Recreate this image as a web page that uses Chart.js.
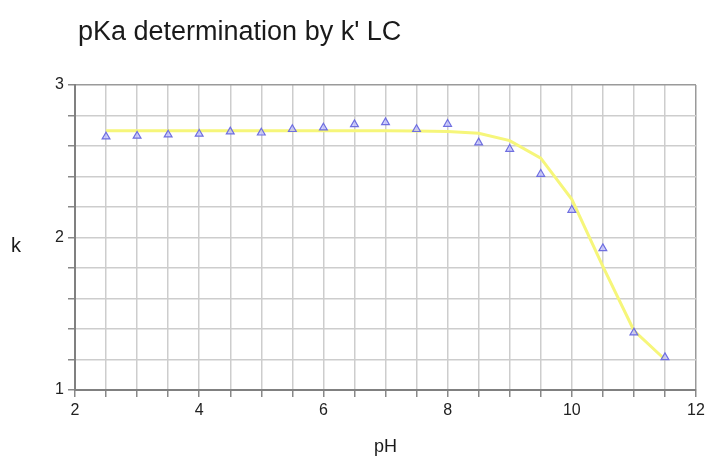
<!DOCTYPE html>
<html>
<head>
<meta charset="utf-8">
<script src="https://cdn.jsdelivr.net/npm/chart.js@4/dist/chart.umd.min.js"></script>
<style>
  html, body { margin: 0; padding: 0; background: #fff; }
  #wrap { width: 705px; height: 459px; position: relative; }
</style>
</head>
<body>
<div id="wrap"><canvas id="pkaChart" width="705" height="459"></canvas></div>
<script>
// Data Setup
const phValues = [2.5, 3, 3.5, 4, 4.5, 5, 5.5, 6, 6.5, 7, 7.5, 8, 8.5, 9, 9.5, 10, 10.5, 11, 11.5];
const measuredK = [2.661, 2.666, 2.674, 2.679, 2.694, 2.687, 2.710, 2.720, 2.742, 2.755, 2.710, 2.744, 2.622, 2.580, 2.416, 2.180, 1.929, 1.376, 1.214];
const fittedK = [2.700, 2.700, 2.700, 2.700, 2.700, 2.700, 2.700, 2.700, 2.700, 2.700, 2.699, 2.695, 2.683, 2.635, 2.520, 2.250, 1.810, 1.390, 1.200];
const xTickLabels = [2, 4, 6, 8, 10, 12];
const yTickLabels = [1, 2, 3];

const toPoints = (ys) => phValues.map((x, i) => ({ x: x, y: ys[i] }));

// Title and upright axis labels
const labelPlugin = {
  id: 'labelPlugin',
  afterDraw(chart) {
    const ctx = chart.ctx;
    const area = chart.chartArea;
    ctx.save();
    ctx.fillStyle = '#1a1a1a';
    ctx.textBaseline = 'middle';
    ctx.font = '27px "Liberation Sans", Arial, sans-serif';
    ctx.textAlign = 'left';
    ctx.fillText("pKa determination by k' LC", 78, 33);
    ctx.font = '20px "Liberation Sans", Arial, sans-serif';
    ctx.textAlign = 'center';
    ctx.fillText('k', 16, 246);
    ctx.font = '18px "Liberation Sans", Arial, sans-serif';
    ctx.fillText('pH', (area.left + area.right) / 2, 447);
    ctx.restore();
  }
};

const pkaChart = new Chart(document.getElementById('pkaChart').getContext('2d'), {
  type: 'scatter',
  data: {
    datasets: [{
      label: 'Fit',
      type: 'line',
      data: toPoints(fittedK),
      borderColor: '#f6f67a',
      borderWidth: 3,
      pointRadius: 0,
      tension: 0,
      fill: false,
      order: 2
    }, {
      label: "k'",
      data: toPoints(measuredK),
      pointStyle: 'triangle',
      pointRadius: 4.5,
      borderColor: '#6f6fe0',
      borderWidth: 1.2,
      backgroundColor: 'rgba(190,190,255,0.7)',
      order: 1
    }]
  },
  options: {
    responsive: false,
    animation: false,
    layout: { padding: { top: 85, right: 9, bottom: 39, left: 0 } },
    plugins: {
      legend: { display: false },
      title: { display: false },
      tooltip: { enabled: false }
    },
    scales: {
      x: {
        type: 'linear',
        min: 2,
        max: 12,
        afterFit: (scale) => { scale.height = 30; scale.paddingRight = 0; scale.paddingLeft = 0; },
        afterBuildTicks: (scale) => {
          scale.ticks = [];
          for (let v = 2; v <= 12.001; v += 0.5) scale.ticks.push({ value: v });
        },
        ticks: {
          autoSkip: false,
          maxRotation: 0,
          padding: 4,
          color: '#222',
          font: { family: '"Liberation Sans", Arial, sans-serif', size: 16 },
          callback: (v) => xTickLabels.includes(v) ? String(v) : ''
        },
        grid: {
          color: (c) => c.tick && c.tick.value === 12 ? '#9a9a9a' : '#cdcdcd',
          lineWidth: 1.5,
          tickLength: 7,
          tickColor: '#888'
        },
        border: { color: '#808080', width: 2 }
      },
      y: {
        type: 'linear',
        min: 1,
        max: 3,
        afterFit: (scale) => { scale.width = 75; scale.paddingTop = 0; scale.paddingBottom = 0; },
        afterBuildTicks: (scale) => {
          scale.ticks = [];
          for (let i = 0; i <= 10; i++) scale.ticks.push({ value: Math.round((1 + i * 0.2) * 10) / 10 });
        },
        ticks: {
          autoSkip: false,
          padding: 4,
          color: '#222',
          font: { family: '"Liberation Sans", Arial, sans-serif', size: 16 },
          callback: (v) => yTickLabels.includes(v) ? String(v) : ''
        },
        grid: {
          color: (c) => c.tick && c.tick.value === 3 ? '#9a9a9a' : '#cdcdcd',
          lineWidth: 1.5,
          tickLength: 7,
          tickColor: '#888'
        },
        border: { color: '#808080', width: 2 }
      }
    }
  },
  plugins: [labelPlugin]
});
</script>
</body>
</html>
